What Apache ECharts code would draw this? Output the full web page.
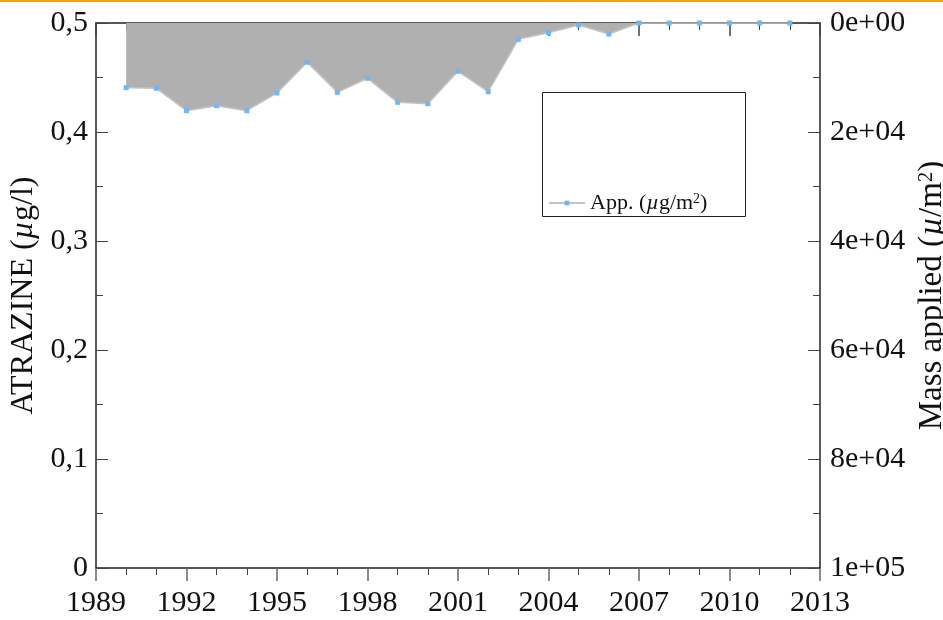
<!DOCTYPE html>
<html>
<head>
<meta charset="utf-8">
<script src="https://cdn.jsdelivr.net/npm/echarts@6/dist/echarts.min.js"></script>
<style>
  html, body { margin: 0; padding: 0; background: #fff; }
  #chart { width: 943px; height: 620px; }
</style>
</head>
<body>
<div id="chart"></div>
<script>
// years and applied mass (ug/m2)
var years = [1990, 1991, 1992, 1993, 1994, 1995, 1996, 1997, 1998, 1999, 2000,
             2001, 2002, 2003, 2004, 2005, 2006, 2007, 2008, 2009, 2010, 2011, 2012]
var applied = [11870, 11980, 16090, 15170, 16090, 12840, 7210, 12720, 10150, 14550, 14810,
               8860, 12610, 2990, 1780, 370, 2020, 0, 0, 0, 0, 0, 0]
var xRange = [1989, 2013]
var leftRange = [0, 0.5]
var rightRange = [0, 100000]

var serif = '"Liberation Serif", "DejaVu Serif", serif'

function commaLabel(v) {
  var r = Math.round(v * 10) / 10
  return r === 0 ? '0' : String(r).replace('.', ',')
}
function expLabel(v) {
  var parts = Number(v).toExponential(0).split('e')
  var sign = parts[1].charAt(0)
  var digits = parts[1].slice(1)
  if (digits.length < 2) digits = '0' + digits
  return parts[0] + 'e' + sign + digits
}

var chart = echarts.init(document.getElementById('chart'))
chart.setOption({
  animation: false,
  backgroundColor: '#fff',
  grid: { left: 96, right: 123, top: 23, bottom: 52, outerBoundsMode: 'none', containLabel: false },
  graphic: [
    { type: 'rect', left: 0, top: 0, shape: { width: 943, height: 2 }, style: { fill: '#f0a020' } },
    { type: 'rect', left: 542, top: 92, shape: { width: 203, height: 124 },
      style: { fill: '#fff', stroke: '#222', lineWidth: 1 }, z: 5 }
  ],
  legend: {
    left: 543,
    top: 187,
    itemWidth: 36,
    itemHeight: 6,
    itemGap: 8,
    z: 10,
    textStyle: { fontFamily: serif, fontSize: 22, color: '#111',
      rich: {
        n: { fontFamily: serif, fontSize: 22, color: '#111' },
        i: { fontFamily: serif, fontSize: 22, fontStyle: 'italic', color: '#111' },
        s: { fontFamily: serif, fontSize: 14, color: '#111', verticalAlign: 'top', padding: [0, 0, 8, 0] }
      }
    },
    formatter: function () { return '{n|App. (}{i|\u00b5}{n|g/m}{s|2}{n|)}' },
    data: ['App.']
  },
  xAxis: [
    {
      type: 'value', min: xRange[0], max: xRange[1], interval: 3,
      axisLine: { show: true, lineStyle: { color: '#222', width: 1.5 } },
      axisTick: { show: true, inside: false, length: 13, lineStyle: { color: '#666', width: 1.5 } },
      minorTick: { show: true, splitNumber: 3, length: 7, lineStyle: { color: '#444', width: 1 } },
      axisLabel: { fontFamily: serif, fontSize: 30, color: '#111', margin: 20,
        formatter: function (v) { return String(v) } },
      splitLine: { show: false }
    },
    {
      type: 'value', position: 'top', min: xRange[0], max: xRange[1], interval: 3,
      axisLine: { show: true, lineStyle: { color: '#222', width: 1.5 } },
      axisTick: { show: true, inside: true, length: 13, lineStyle: { color: '#444', width: 1.5 } },
      minorTick: { show: true, splitNumber: 3, length: 7, lineStyle: { color: '#444', width: 1 } },
      axisLabel: { show: false },
      splitLine: { show: false }
    }
  ],
  yAxis: [
    {
      type: 'value', min: leftRange[0], max: leftRange[1], interval: 0.1,
      name: '{n|ATRAZINE (}{i|\u00b5}{n|g/l)}',
      nameLocation: 'middle', nameGap: 52, nameRotate: 90,
      nameTextStyle: { rich: {
        n: { fontFamily: serif, fontSize: 32, color: '#111' },
        i: { fontFamily: serif, fontSize: 32, fontStyle: 'italic', color: '#111' }
      } },
      axisLine: { show: true, lineStyle: { color: '#222', width: 1.5 } },
      axisTick: { show: true, inside: true, length: 12, lineStyle: { color: '#444', width: 1 } },
      minorTick: { show: true, splitNumber: 2, length: 7, lineStyle: { color: '#444', width: 1 } },
      axisLabel: { fontFamily: serif, fontSize: 30, color: '#111', margin: 8, formatter: commaLabel },
      splitLine: { show: false }
    },
    {
      type: 'value', position: 'right', inverse: true,
      min: rightRange[0], max: rightRange[1], interval: 20000,
      name: '{n|Mass applied (}{i|\u00b5}{n|/m}{s|2}{n|)}',
      nameLocation: 'middle', nameGap: 91, nameRotate: 90,
      nameTextStyle: { rich: {
        n: { fontFamily: serif, fontSize: 33, color: '#111' },
        i: { fontFamily: serif, fontSize: 33, fontStyle: 'italic', color: '#111' },
        s: { fontFamily: serif, fontSize: 21, color: '#111', verticalAlign: 'top', padding: [0, 0, 12, 0] }
      } },
      axisLine: { show: true, lineStyle: { color: '#222', width: 1.5 } },
      axisTick: { show: true, inside: true, length: 12, lineStyle: { color: '#444', width: 1 } },
      minorTick: { show: true, splitNumber: 2, length: 7, lineStyle: { color: '#444', width: 1 } },
      axisLabel: { fontFamily: serif, fontSize: 30, color: '#111', margin: 10, formatter: expLabel },
      splitLine: { show: false }
    }
  ],
  series: [
    {
      name: 'App.',
      type: 'line',
      xAxisIndex: 0,
      yAxisIndex: 1,
      data: years.map(function (y, i) { return [y, applied[i]] }),
      symbol: 'rect',
      symbolSize: 5,
      showSymbol: true,
      itemStyle: { color: '#6fb8f5' },
      lineStyle: { color: '#c4c4c4', width: 1.5 },
      areaStyle: { color: '#b0b0b0', opacity: 1, origin: 'start' },
      z: 3
    }
  ]
})
</script>
</body>
</html>
